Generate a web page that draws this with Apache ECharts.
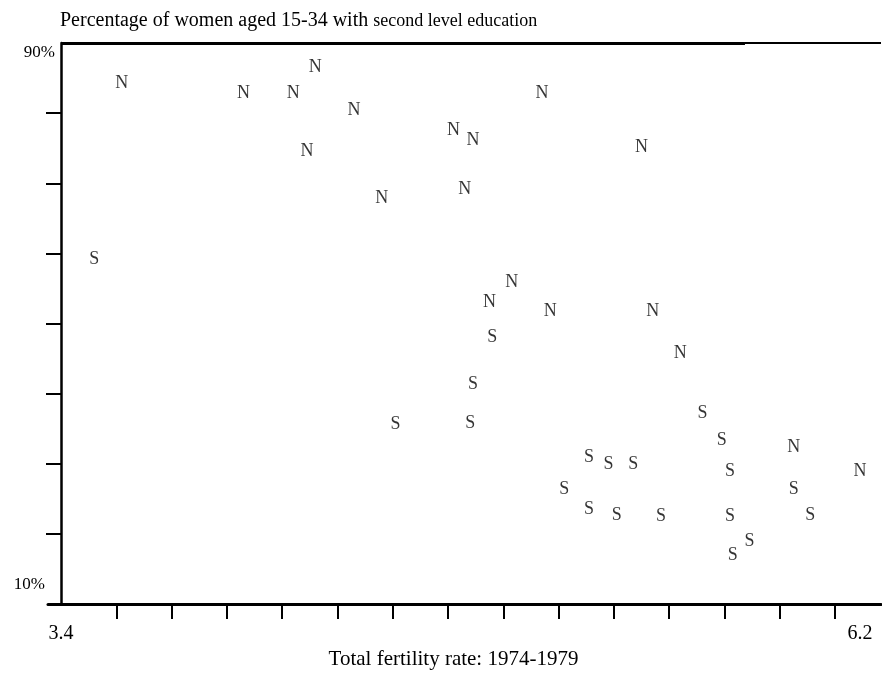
<!DOCTYPE html>
<html>
<head>
<meta charset="utf-8">
<script src="https://cdn.jsdelivr.net/npm/echarts@6/dist/echarts.min.js"></script>
<style>
  html, body { margin: 0; padding: 0; background: #fff; }
  #chart { width: 882px; height: 675px; }
</style>
</head>
<body>
<div id="chart"></div>
<script>
// fertility rate (x) and % of women 15-34 with second level education (y)
const nPoints = [
  [3.62, 84.3], [4.06, 82.9], [4.24, 82.9], [4.32, 86.6], [4.46, 80.4],
  [4.29, 74.6], [4.56, 67.8], [4.82, 77.5], [4.89, 76.1], [4.86, 69.2],
  [5.14, 82.9], [5.50, 75.2], [5.03, 55.9], [4.95, 53.1], [5.17, 51.7],
  [5.54, 51.7], [5.64, 45.8], [6.05, 32.3], [6.29, 29.0]
];
const sPoints = [
  [3.52, 59.1], [4.96, 48.1], [4.89, 41.3], [4.61, 35.6], [4.88, 35.8],
  [5.72, 37.2], [5.79, 33.4], [5.82, 28.9], [5.31, 30.9], [5.38, 29.9],
  [5.47, 29.9], [5.22, 26.4], [5.31, 23.5], [5.41, 22.6], [5.57, 22.5],
  [5.82, 22.5], [6.05, 26.4], [6.11, 22.6], [5.89, 19.0], [5.83, 17.0]
];

const xTicks = [3.6, 3.8, 4.0, 4.2, 4.4, 4.6, 4.8, 5.0, 5.2, 5.4, 5.6, 5.8, 6.0, 6.2];
const xLabels = [3.4, 6.2];
const yTicks = [20, 30, 40, 50, 60, 70, 80];
const yLabels = [10, 90];

// axis extent (line runs a little past the labelled range)
const xMin = 3.353, xMax = 6.366;
const topThickEnd = 5.874;

const serif = 'Liberation Serif';

const chart = echarts.init(document.getElementById('chart'));

function letterSeries(name, data, letter) {
  return {
    name: name,
    type: 'scatter',
    data: data,
    symbolSize: 1,
    clip: false,
    silent: true,
    itemStyle: { color: 'rgba(0,0,0,0)' },
    label: {
      show: true,
      position: 'inside',
      formatter: letter,
      fontFamily: serif,
      fontSize: 18,
      color: '#000'
    },
    emphasis: { disabled: true }
  };
}

const nSeries = letterSeries('N', nPoints, 'N');
// frame line along the top
nSeries.markLine = {
  silent: true,
  symbol: ['none', 'none'],
  label: { show: false },
  lineStyle: { color: '#000', type: 'solid', width: 3 },
  data: [
    [{ coord: [3.4, 90] }, { coord: [topThickEnd, 90] }],
    [{ coord: [topThickEnd, 90], lineStyle: { width: 2 } }, { coord: [xMax, 90] }]
  ]
};

const option = {
  backgroundColor: '#fff',
  animation: false,
  title: {
    text: '{a|Percentage of women aged 15-34 with }{b|second level education}',
    left: 55,
    top: 6,
    textStyle: {
      fontWeight: 'normal',
      rich: {
        a: { fontFamily: serif, fontSize: 20, fontWeight: 'normal', color: '#000' },
        b: { fontFamily: serif, fontSize: 18, fontWeight: 'normal', color: '#000' }
      }
    }
  },
  grid: { left: 48, right: 1, top: 43, bottom: 68 },
  xAxis: {
    type: 'value',
    min: xMin,
    max: xMax,
    name: 'Total fertility rate: 1974-1979',
    nameLocation: 'middle',
    nameGap: 42,
    nameTextStyle: { fontFamily: serif, fontSize: 21, color: '#000', padding: [0, 22, 0, 0] },
    splitLine: { show: false },
    axisLine: { show: true, onZero: false, lineStyle: { color: '#000', width: 3 } },
    axisTick: {
      show: true,
      customValues: xTicks,
      length: 15,
      lineStyle: { color: '#000', width: 2 }
    },
    axisLabel: {
      show: true,
      customValues: xLabels,
      margin: 20,
      formatter: function (v) {
        return v > 5 ? '{r|' + v.toFixed(1) + '}' : '{l|' + v.toFixed(1) + '}';
      },
      rich: {
        l: { fontFamily: serif, fontSize: 20, color: '#000' },
        r: { fontFamily: serif, fontSize: 20, color: '#000', padding: [0, 0, 6, 50] }
      }
    }
  },
  yAxis: {
    type: 'value',
    min: 10,
    max: 90,
    interval: 10,
    offset: -13,
    splitLine: { show: false },
    axisLine: { show: true, onZero: false, lineStyle: { color: '#000', width: 2.5 } },
    axisTick: {
      show: true,
      customValues: yTicks,
      length: 15,
      lineStyle: { color: '#000', width: 2 }
    },
    axisLabel: {
      show: true,
      customValues: yLabels,
      margin: 6,
      formatter: function (v) {
        return v > 50 ? '{t|' + v + '%}' : '{b|' + v + '%}';
      },
      rich: {
        t: { fontFamily: serif, fontSize: 17, color: '#000', padding: [20, 0, 0, 0] },
        b: { fontFamily: serif, fontSize: 17, color: '#000', padding: [0, 10, 40, 0] }
      }
    }
  },
  series: [
    nSeries,
    letterSeries('S', sPoints, 'S')
  ]
};

chart.setOption(option);
</script>
</body>
</html>
